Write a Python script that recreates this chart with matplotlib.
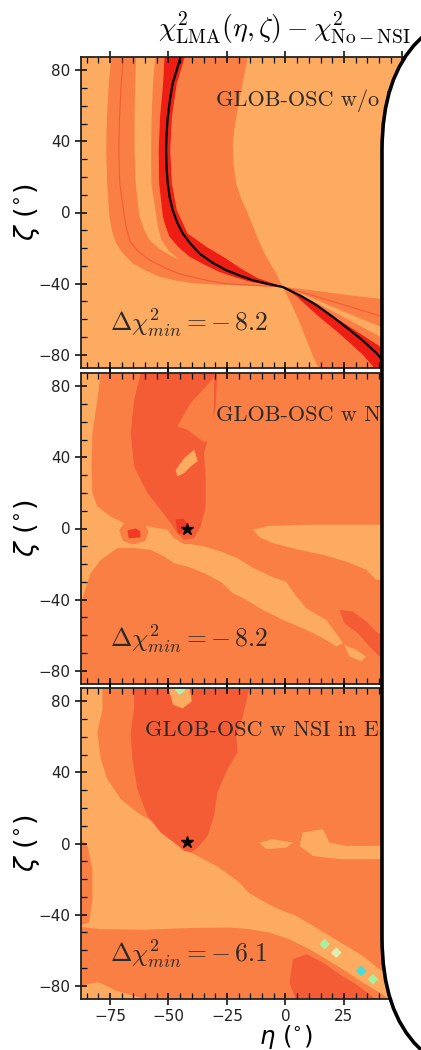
import numpy as np
import matplotlib.pyplot as plt
from matplotlib.patches import FancyBboxPatch
from matplotlib.transforms import IdentityTransform
from matplotlib.ticker import MultipleLocator, FuncFormatter

LIGHT = '#FDAB61'
MED = '#F97F45'
DARK = '#F45C36'
RED = '#EE1E14'
CORE = '#F03A22'

# ---- panel 1 : contour boundaries, (eta, zeta) ----
c1_eta = [-74.4, -75.5, -76.3, -76.6, -76.2, -75.2, -74.2, -72.4, -69.5, -65.3, -60, -53.8,
          -47, -39.6, -30, -22.5, -12, -1.2, 10, 20, 30, 40, 52]
c1_zeta = [87.5, 72.7, 53.9, 35.1, 16.3, -2.3, -10, -17.3, -23, -28.6, -32.5, -36.1,
           -38.3, -39.8, -40.6, -40.8, -41.3, -41.8, -43.5, -45.3, -47, -48.5, -50.5]
c2_eta = [-69.2, -70.2, -70.9, -71.2, -70.8, -68.8, -67.8, -66.2, -62.8, -58.1, -52, -45.3,
          -36, -26.1, -14, -1.2, 10, 20, 30, 40, 50]
c2_zeta = [87.5, 72.7, 53.9, 35.1, 16.3, -2.3, -10, -16.6, -22, -26.7, -30.8, -34.6,
           -37.5, -40, -41, -41.8, -46, -50, -54, -58, -62]
c3_eta = [-63.8, -64.2, -64.5, -64.5, -64, -62.4, -60.6, -58.1, -53.8, -48.2, -41, -33.9,
          -24.5, -15.4, -7.5, -1.2, 10, 20, 30, 40, 54]
c3_zeta = [87.5, 72.7, 53.9, 35.1, 16.3, -2.3, -9, -15.5, -20.5, -24.9, -28.9, -32.4,
           -35.8, -38.9, -40.6, -41.8, -47.3, -53, -58.5, -64, -72]
c4_eta = [-55.6, -56.6, -57.2, -57.4, -57.3, -55.1, -54.3, -53, -49.8, -45.3, -39, -32.5,
          -24.5, -17.5, -9, -1.2, 10, 20, 30, 40, 52, 62]
c4_zeta = [87.5, 72.7, 53.9, 35.1, 16.3, -2.3, -9, -15.5, -21.5, -26.7, -30.8, -34.6,
           -37.3, -39.7, -41, -41.8, -48.5, -55.5, -62.5, -69.5, -78, -90]
c5_eta = [-51.7, -52.3, -53.6, -54.2, -54, -52.4, -51.2, -49.6, -45.8, -41, -34.5, -28.2,
          -21.5, -15.4, -8, -1.2, 10, 20, 30, 40, 50, 58]
c5_zeta = [87.5, 72.7, 53.9, 35.1, 16.3, -2.3, -8, -13.6, -19.5, -24.9, -29.5, -33.5,
           -36.5, -38.9, -40.6, -41.8, -50, -58, -66.5, -75, -86, -95]
c6_eta = [-44.8, -46.5, -48.2, -49.4, -50.3, -50.8, -51, -50.8, -50.3, -49.4, -48.2, -46.3,
          -43.9, -40.6, -36.8, -31.5, -25.4, -19.5, -14, -7.5, -1.2, 6, 13.1, 20, 27.4,
          33, 38.8, 42, 45]
c6_zeta = [87.5, 80, 72.7, 63, 53.9, 44, 35.1, 25, 16.3, 8, 1.4, -5.5,
           -11.8, -17.5, -23, -28, -32.4, -35.5, -38.1, -40.2, -41.9, -46.5, -52, -58.5, -66,
           -72, -79, -84, -90]
c7_eta = [-43, -46.4, -48.5, -49.2, -48.5, -46.4, -41.8, -33.5, -26, -19, -12, -6, -1.2,
          4.5, 9.5, 15.5, 22, 28, 33, 37, 41]
c7_zeta = [87.5, 72.7, 53.9, 35.1, 16.3, 1.4, -11.8, -19.5, -25.4, -31.5, -36.8, -39.5, -41.9,
           -47, -53, -60, -67, -74, -80, -86, -93]
c8_eta = [-16.1, -18, -19.7, -21.5, -22.5, -22.3, -21.1, -19, -16.1, -13.2, -9.7, -6.8, -4,
          -1.2, 2, 5.5, 8.5, 11.5, 14.5, 16.5]
c8_zeta = [87.5, 75, 63.3, 50, 38.9, 28, 16.4, 8, -0.5, -10, -21.1, -28, -34.2,
           -41.8, -50, -60, -70, -80, -88.6, -95]

# ---- panel 2 : region outlines ----
p2_light_eta = [-87.5, -78.9, -80.4, -82.5, -82.9, -82.5, -80.4, -74.7, -69, -58.3, -50.4, -43.3,
                -34.8, -27.6, -20.5, -14, -6, 0.3, 4, 9, 17.4, 21.7, 24.5, 21.7, 16, 8.9, -1.1,
                -9.7, -16.8, -22.5, -27.6, -34.8, -41.9, -47.6, -51.9, -57.6, -64.7, -71.8,
                -78.9, -83.2, -86.1, -87.5]
p2_light_zeta = [87.5, 87.5, 72.4, 53.7, 34.9, 19.9, 12.4, 6.8, 3, 1.1, -0.7, -8.2,
                 -10.1, -12.9, -16.7, -22, -27, -30, -37, -45, -51.4, -58.9, -64.5, -66.4, -61.7,
                 -57, -51.4, -45.8, -40.1, -36.4, -30, -25.1, -21.4, -19.5, -15.7, -12, -11,
                 -11, -17.6, -25.1, -36.4, -44]
p2_island_eta = [-13.9, -6.8, 11.7, 38.8, 50, 50, 38.8, 34.5, 26, 16, 4.6, -5.4, -11.1]
p2_island_zeta = [-0.7, 1.5, 2.1, 2.1, 2.1, -28.9, -28.9, -23.2, -18.6, -14.8, -11.6, -8.2, -4.9]
p2_bit_eta = [25.2, 30.2, 34.5, 32.4, 27.4]
p2_bit_zeta = [-65.5, -68.3, -72, -74.8, -72]
p2_strip_eta = [23.1, 28.8, 34.5, 39.5, 45, 45, 40.2, 35.9, 30.9, 25.2]
p2_strip_zeta = [-45.8, -46.7, -52.3, -58.9, -62, -76, -72, -66.4, -58.9, -53.3]
p2_ring1_eta = [-71, -69, -64.5, -60, -58.5, -60, -65, -69.5]
p2_ring1_zeta = [-1, 3, 4, 2.5, -2, -7, -9, -7]
p2_core1_eta = [-67.5, -64, -62, -62, -67]
p2_core1_zeta = [-1, 0, -1.5, -5, -5.5]
p2_ring2_eta = [-52, -48, -43, -38, -36.5, -37]
p2_ring2_zeta = [2, -5, -9, -7.5, -2, 3]
p2_tongue_eta = [-61.8, -64.7, -66.1, -64.7, -59, -53.3, -49, -46.2, -43.3,
                 -39, -36.2, -34.1, -34.1, -34.8, -32.6, -29.8, -29.1]
p2_tongue_zeta = [87.5, 72.4, 53.7, 34.9, 19.9, 10.5, 3, -2.6, -6.4,
                  -5.4, 1.1, 12.4, 29.3, 42.4, 53.7, 68.7, 87.5]
p2_notch_eta = [-30.5, -30, -40.5, -46.2, -41.9, -34.8, -31.9, -30.5]
p2_notch_zeta = [87.5, 85.6, 70.6, 57.4, 55.6, 48.5, 50, 70]
p2_hook_eta = [-39, -43.3, -46.9, -46.2, -43.3, -40.5, -37.5]
p2_hook_zeta = [44.3, 39.6, 33, 29.3, 31.2, 34.9, 38]
p2_core2_eta = [-47, -43.5, -41.5, -42, -46]
p2_core2_zeta = [5, 5.5, 2, -2.5, -2.8]

# ---- panel 3 : region outlines ----
p3_light_eta = [-87.5, -78.2, -78.2, -80.4, -78.9, -76.1, -70.4, -63.3, -56.1, -49, -44, -37.6,
                -29.1, -20.5, -15.4, -6.8, -1.1, 4.6, 13.1, 18.8, 26, 33.1, 40.2, 50,
                50, 40.2, 33.1, 24.5, 17.4, 10.3, 1.7, -6.8, -15.4, -23.9, -40, -60, -78.9, -87.5]
p3_light_zeta = [87.5, 87.5, 75.6, 62.5, 47.4, 36.2, 25, 17.4, 11.8, 4.3, -2.5, -7,
                 -13, -21, -28, -34.5, -37.9, -40.7, -47.3, -52, -57.6, -63.3, -70.8, -78,
                 -93, -83.9, -78.3, -70.8, -65.1, -59.5, -53.9, -50.1, -48.2, -47.3, -47.5,
                 -48.5, -48.2, -47]
p3_edge_eta = [-87.5, -84.6, -82.5, -82.5, -83.9, -87.5]
p3_edge_zeta = [2.4, -1.3, -14.5, -31.4, -44.5, -46]
p3_corner_eta = [-87.5, -80, -72, -60, -87.5]
p3_corner_zeta = [-80, -78, -83, -87.5, -87.5]
p3_tongue_eta = [-64.7, -64.7, -66.1, -65.4, -63.3, -59, -53.3, -47.6, -43.3,
                 -40.5, -37.6, -33.3, -30.5, -29.1, -24.8, -20.5, -21, -18.2, -15.4]
p3_tongue_zeta = [87.5, 75.6, 62.5, 47.4, 30.6, 15.6, 6.2, 0.5, -4.1,
                  -5.1, -2.3, 4.3, 15.6, 28.7, 41.8, 51.2, 60.6, 71.8, 87.5]
p3_top_eta = [-50, -41, -40, -44, -48]
p3_top_zeta = [87.5, 87.5, 80, 76, 78]
p3_isl1_eta = [-11.1, -5.4, 3.2, 0.3, -8.2]
p3_isl1_zeta = [0.5, 2.4, 0.5, -2.3, -3.2]
p3_isl2_eta = [7.4, 16, 18.8, 26, 40.2, 50, 50, 40.2, 23.1, 11.7, 6]
p3_isl2_zeta = [6.2, 8.1, 0.5, -1.3, -1.3, -1.3, -8.8, -8.8, -8.8, -7, -1.3]
p3_blob_eta = [3.2, 8.9, 16, 23.1, 30.2, 35.9, 38.8, 4.6, 1.7]
p3_blob_zeta = [-65.1, -62.3, -67, -73.6, -79.2, -84.8, -88, -88, -78.3]
p3_spot_eta = [16.7, 21.7, 32.4, 37.4, -45]
p3_spot_zeta = [-56.6, -61.4, -71.7, -76.4, 86.5]
p3_spot_col = ['#A8F0A0', '#D8F0B0', '#40E0D8', '#A8F0A0', '#B8F0A8']

star_eta = [-42, -42]
star_zeta = [0, 1]
dchi = ['8.2', '8.2', '6.1']
names = ['GLOB-OSC w/o NSI', 'GLOB-OSC w NSI in Sun', 'GLOB-OSC w NSI in Earth']
name_pos = [(-29.5, 63), (-29.5, 64), (-60, 63.5)]

W, H = 421, 1050
fig = plt.figure(figsize=(W / 100, H / 100), dpi=100)
tops = [57, 373, 688]
axs = []
for t in tops:
    ax = fig.add_axes([80.7 / W, (H - t - 311) / H, 409.5 / W, 311 / H])
    axs.append(ax)


def band(ax, ea, za, eb, zb, col):
    ax.fill(ea + eb[::-1], za + zb[::-1], color=col, lw=0, zorder=1)


# panel 1
ax = axs[0]
ax.set_facecolor(LIGHT)
band(ax, c1_eta, c1_zeta, c3_eta, c3_zeta, MED)
band(ax, c4_eta, c4_zeta, c5_eta, c5_zeta, MED)
band(ax, c7_eta, c7_zeta, c8_eta, c8_zeta, MED)
band(ax, c5_eta, c5_zeta, c7_eta, c7_zeta, RED)
ax.plot(c2_eta, c2_zeta, color=DARK, lw=0.8, zorder=2)
ax.plot(c6_eta, c6_zeta, color='k', lw=1.6, zorder=3)

# panel 2
ax = axs[1]
ax.set_facecolor(MED)
ax.fill(p2_light_eta, p2_light_zeta, color=LIGHT, lw=0)
ax.fill(p2_island_eta, p2_island_zeta, color=LIGHT, lw=0)
ax.fill(p2_bit_eta, p2_bit_zeta, color=LIGHT, lw=0)
ax.fill(p2_strip_eta, p2_strip_zeta, color=DARK, lw=0)
ax.fill(p2_ring1_eta, p2_ring1_zeta, color=MED, lw=0)
ax.fill(p2_core1_eta, p2_core1_zeta, color=CORE, lw=0)
ax.fill(p2_ring2_eta, p2_ring2_zeta, color=MED, lw=0)
ax.fill(p2_tongue_eta, p2_tongue_zeta, color=DARK, lw=0)
ax.fill(p2_notch_eta, p2_notch_zeta, color=MED, lw=0)
ax.fill(p2_hook_eta, p2_hook_zeta, color=LIGHT, lw=0)
ax.fill(p2_core2_eta, p2_core2_zeta, color=CORE, lw=0)

# panel 3
ax = axs[2]
ax.set_facecolor(MED)
ax.fill(p3_light_eta, p3_light_zeta, color=LIGHT, lw=0)
ax.fill(p3_edge_eta, p3_edge_zeta, color=MED, lw=0)
ax.fill(p3_corner_eta, p3_corner_zeta, color=LIGHT, lw=0)
ax.fill(p3_tongue_eta, p3_tongue_zeta, color=DARK, lw=0)
ax.fill(p3_top_eta, p3_top_zeta, color=LIGHT, lw=0)
ax.fill(p3_isl1_eta, p3_isl1_zeta, color=LIGHT, lw=0)
ax.fill(p3_isl2_eta, p3_isl2_zeta, color=LIGHT, lw=0)
ax.fill(p3_blob_eta, p3_blob_zeta, color=DARK, lw=0)
ax.scatter(p3_spot_eta, p3_spot_zeta, c=p3_spot_col, marker='D', s=30, lw=0, zorder=2)

# the callout hides everything right of eta ~ 40, tick labels included
eta_fmt = FuncFormatter(lambda v, pos: '' if v > 40 else '%d' % v if v >= 0 else '\u2212%d' % -v)

for i, ax in enumerate(axs):
    ax.set_xlim(-87.5, 87.5)
    ax.set_ylim(-87.5, 87.5)
    ax.xaxis.set_major_locator(MultipleLocator(25))
    ax.xaxis.set_minor_locator(MultipleLocator(5))
    ax.xaxis.set_major_formatter(eta_fmt)
    ax.yaxis.set_major_locator(MultipleLocator(40))
    ax.yaxis.set_minor_locator(MultipleLocator(10))
    ax.tick_params(which='major', direction='inout', length=8, width=1.1,
                   top=True, right=True, labelsize=11, labelcolor='#222222')
    ax.tick_params(which='minor', direction='in', length=4, width=0.9, top=True, right=True)
    for s in ax.spines.values():
        s.set_linewidth(1.3)
        s.set_color('#222222')
    if i < 2:
        ax.tick_params(labelbottom=False)
    ax.set_ylabel(r'$\zeta\ (^{\circ})$', fontsize=19.5, labelpad=-3)
    ax.text(name_pos[i][0], name_pos[i][1], names[i], fontfamily='cmr10', fontsize=16,
            color='#2a2a2a', va='center', zorder=5)
    ax.text(-75, -62, r'$\Delta\chi^2_{min} = -\,%s$' % dchi[i], fontsize=18.5,
            math_fontfamily='cm', color='#2a2a2a', va='center', ha='left', zorder=5)
    if i > 0:
        ax.plot(star_eta[i - 1], star_zeta[i - 1], marker='*', ms=9, color='k', zorder=6)

axs[2].set_xlabel(r'$\eta\ (^{\circ})$', fontsize=17.5, labelpad=-1)

fig.text(284 / W, 1 - 27 / H, r'$\chi^2_{\rm LMA}(\eta,\zeta) - \chi^2_{\rm No-NSI}$',
         fontsize=20, math_fontfamily='cm', ha='center', va='center')

# white callout covering the right side (pixel coordinates)
box = FancyBboxPatch((382, -34), 700, 1080, boxstyle='round,pad=0,rounding_size=146',
                     transform=IdentityTransform(), facecolor='white', edgecolor='black',
                     lw=2.6, zorder=20)
fig.add_artist(box)

fig.savefig('out.png', dpi=100)
